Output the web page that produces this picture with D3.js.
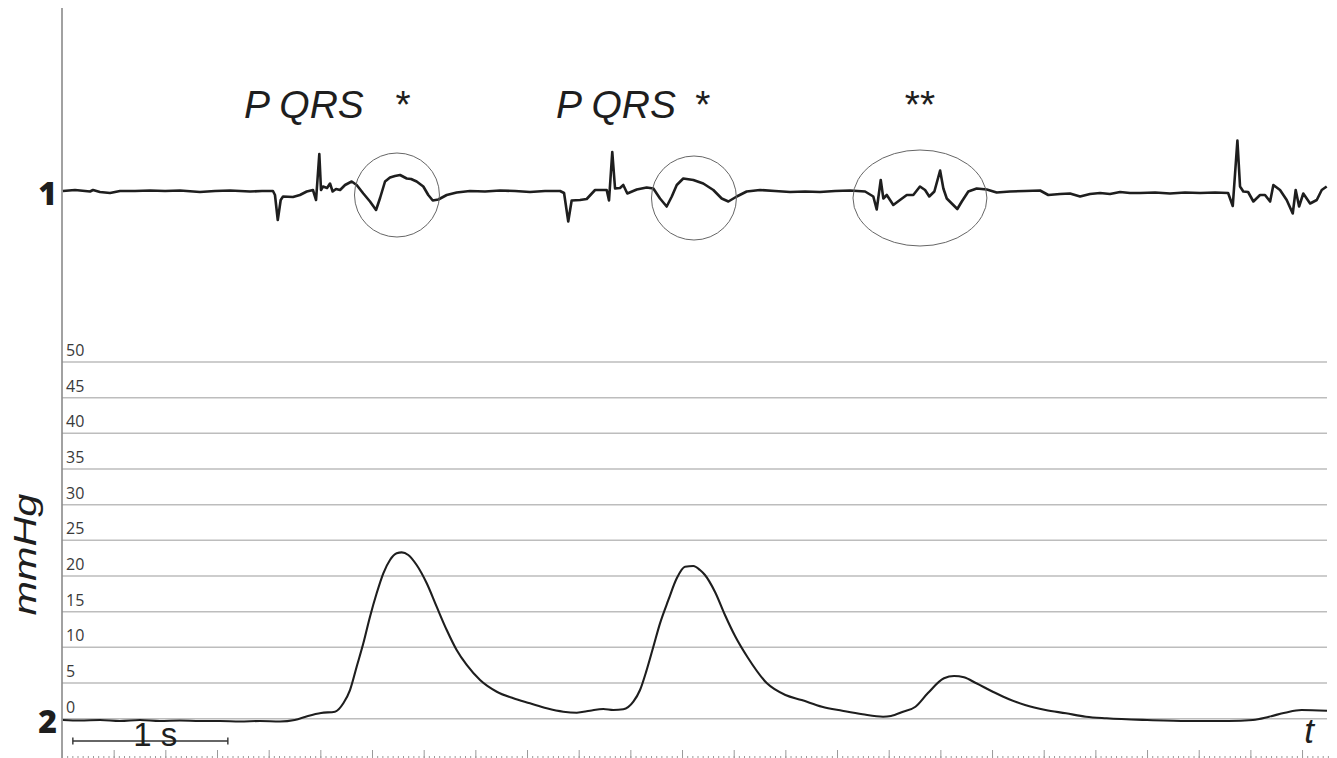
<!DOCTYPE html>
<html>
<head>
<meta charset="utf-8">
<script src="https://cdnjs.cloudflare.com/ajax/libs/d3/7.8.5/d3.min.js"></script>
<style>
  body { margin: 0; background: #fff; }
  .grid line { stroke: #bdbdbd; stroke-width: 1.5px; }
  .tick-label { font-family: "Open Sans", sans-serif; font-size: 16px; fill: #3a3a3a; }
  .trace { fill: none; stroke: #1e1e1e; stroke-linejoin: round; }
  .note { font-family: "Liberation Sans", Arial, sans-serif; fill: #1e1e1e; }
  .ruler path { display: none; }
  .ruler line { stroke: #9a9a9a; }
</style>
</head>
<body>
<div id="chart"></div>
<script>
//////////////////////////////////////////////
// Data //////////////////////////////////////
//////////////////////////////////////////////
// ECG (trace 1): [time s, amplitude mV]
var ecgPoints = [
  [0.006,0],[0.084,0.02],[0.181,-0.01],[0.2,0.02],[0.245,-0.02],[0.31,-0.04],[0.374,0],[0.471,0],
  [0.568,0.01],[0.665,0],[0.761,0.01],[0.89,-0.02],[0.987,0],[1.084,0.01],[1.213,-0.01],[1.29,0],[1.361,0],
  // beat 1
  [1.374,-0.08],[1.392,-0.58],[1.411,-0.18],[1.426,-0.11],[1.49,-0.12],[1.535,-0.08],[1.579,-0.01],[1.619,0.02],
  [1.639,-0.18],[1.66,0.74],[1.671,0.02],[1.684,0.09],[1.71,0.06],[1.729,0.15],[1.746,-0.01],[1.768,0.04],
  [1.794,0.02],[1.826,0.12],[1.869,0.19],[1.901,0.12],[1.944,-0.05],[1.987,-0.21],[2.026,-0.38],[2.052,-0.14],
  [2.084,0.19],[2.116,0.27],[2.148,0.30],[2.181,0.32],[2.224,0.25],[2.252,0.24],[2.288,0.19],[2.331,0.09],
  [2.363,-0.08],[2.392,-0.19],[2.428,-0.17],[2.482,-0.08],[2.546,-0.03],[2.632,0],[2.729,-0.01],[2.826,0.01],
  [2.923,0],[3.019,-0.02],[3.116,0],[3.213,0],
  // beat 2
  [3.239,-0.04],[3.266,-0.61],[3.288,-0.19],[3.342,-0.18],[3.385,-0.16],[3.439,0.02],[3.514,0.02],[3.529,-0.19],
  [3.55,0.78],[3.568,0.05],[3.6,0.06],[3.621,0.12],[3.647,-0.05],[3.708,0.03],[3.772,0.07],[3.815,0.05],
  [3.858,-0.15],[3.901,-0.31],[3.934,-0.11],[3.966,0.12],[4.008,0.25],[4.073,0.22],[4.137,0.15],[4.202,0.02],
  [4.256,-0.15],[4.299,-0.21],[4.353,-0.11],[4.417,-0.01],[4.503,0.02],[4.6,0],[4.697,-0.02],[4.794,-0.01],
  [4.89,-0.02],[4.987,0],[5.084,0.01],[5.181,-0.01],
  // irregular complex (**)
  [5.234,-0.11],[5.256,-0.37],[5.282,0.22],[5.299,-0.15],[5.321,-0.08],[5.342,-0.18],[5.363,-0.28],[5.406,-0.18],
  [5.45,-0.08],[5.492,-0.08],[5.535,0.09],[5.568,0.02],[5.595,-0.11],[5.628,-0.01],[5.665,0.41],[5.686,0.05],
  [5.708,-0.15],[5.75,-0.28],[5.776,-0.36],[5.805,-0.21],[5.847,-0.01],[5.901,0.05],[5.966,0.03],[6.03,-0.03],
  [6.116,-0.01],[6.213,0],[6.31,0.01],[6.363,-0.08],[6.439,-0.06],[6.503,-0.05],[6.568,-0.11],[6.632,-0.06],
  [6.697,-0.04],[6.761,-0.06],[6.826,-0.02],[6.89,-0.04],[6.955,-0.04],[7.052,-0.03],[7.148,-0.05],[7.245,-0.03],
  [7.342,-0.04],[7.439,-0.03],[7.523,-0.04],
  // last beat
  [7.553,-0.30],[7.583,1.01],[7.6,0.09],[7.621,-0.01],[7.652,-0.02],[7.686,-0.21],[7.729,-0.08],[7.761,-0.08],
  [7.794,-0.21],[7.815,0.12],[7.858,0.02],[7.901,-0.18],[7.94,-0.45],[7.959,0.02],[7.981,-0.31],[8.008,-0.05],
  [8.052,-0.25],[8.095,-0.18],[8.127,0.02],[8.159,0.09]
];

// pressure (trace 2): [time s, mmHg]
var pressurePoints = [
  [0.006,-0.18],[0.116,-0.25],[0.245,-0.18],[0.374,-0.32],[0.503,-0.18],[0.632,-0.32],[0.761,-0.25],[0.89,-0.32],
  [1.019,-0.32],[1.148,-0.39],[1.277,-0.32],[1.406,-0.39],[1.501,-0.18],[1.587,0.38],[1.671,0.8],[1.761,0.98],
  [1.816,2.2],[1.858,4.02],[1.901,7.29],[1.944,10.57],[1.987,14.3],[2.03,17.58],[2.073,20.38],[2.116,22.25],
  [2.159,23.18],[2.192,23.32],[2.234,22.95],[2.288,21.54],[2.353,18.98],[2.417,15.7],[2.482,12.43],[2.546,9.63],
  [2.611,7.53],[2.697,5.42],[2.805,3.78],[2.912,2.86],[3.019,2.16],[3.127,1.46],[3.234,0.98],[3.321,0.84],
  [3.406,1.12],[3.492,1.36],[3.557,1.22],[3.621,1.32],[3.686,2.38],[3.729,4.02],[3.772,6.83],[3.815,10.09],
  [3.858,13.37],[3.912,16.64],[3.966,19.68],[4.019,21.31],[4.073,21.4],[4.116,20.84],[4.148,20.14],[4.213,17.76],
  [4.277,14.54],[4.342,11.59],[4.426,8.51],[4.548,4.96],[4.667,3.32],[4.772,2.62],[4.903,1.68],[5.034,1.12],
  [5.165,0.62],[5.297,0.28],[5.348,0.38],[5.426,0.98],[5.506,1.68],[5.585,3.56],[5.69,5.66],[5.755,5.99],
  [5.819,5.8],[5.899,4.96],[6.005,3.78],[6.11,2.72],[6.213,1.92],[6.345,1.22],[6.477,0.76],[6.606,0.28],
  [6.739,0.06],[7.0,-0.18],[7.263,-0.32],[7.526,-0.32],[7.683,-0.18],[7.787,0.28],[7.89,0.84],[7.997,1.22],
  [8.161,1.12]
];

var pressureTicks = [0, 5, 10, 15, 20, 25, 30, 35, 40, 45, 50];

// annotations above the ECG: [text, time s, anchor]
var ecgNotes = [
  ["P QRS", 1.174, "start"], ["*", 2.2, "middle"],
  ["P QRS", 3.187, "start"], ["*", 4.135, "middle"],
  ["**", 5.535, "middle"]
];
// marked regions: [centre time s, centre mV, half width s, half height mV]
var ecgMarks = [
  [2.161, -0.08, 0.274, 0.84],
  [4.077, -0.14, 0.274, 0.84],
  [5.535, -0.14, 0.432, 0.96]
];
var scaleBar = [0.07, 1.07]; // 1 s

//////////////////////////////////////////////
// Chart Config /////////////////////////////
//////////////////////////////////////////////
var W = 1337, H = 758;
var left = 62, right = 1327;

var x = d3.scaleLinear().domain([0, 8.161]).range([left, right]);
var yEcg = d3.scaleLinear().domain([-1, 1]).range([241, 141]);
var yP = d3.scaleLinear().domain([0, 50]).range([718.7, 362]);

var svg = d3.select("#chart").append("svg")
  .attr("width", W)
  .attr("height", H);

// horizontal pressure grid
var grid = svg.append("g").attr("class", "grid");
grid.selectAll("line").data(pressureTicks).enter().append("line")
  .attr("x1", left).attr("x2", right)
  .attr("y1", function(d) { return yP(d); })
  .attr("y2", function(d) { return yP(d); });

svg.append("g").selectAll("text").data(pressureTicks).enter().append("text")
  .attr("class", "tick-label")
  .attr("x", left + 4)
  .attr("y", function(d) { return yP(d) - 6; })
  .text(function(d) { return d; });

// vertical axis line
svg.append("line")
  .attr("x1", left).attr("x2", left)
  .attr("y1", 8).attr("y2", H)
  .style("stroke", "#8a8a8a").style("stroke-width", "1.6px");

// time ruler at the bottom (major every 1/3 s, minor every 1/30 s)
var minorAxis = d3.axisBottom(x).tickValues(d3.range(0, 8.2, 1 / 30)).tickSize(2).tickFormat("");
var majorAxis = d3.axisBottom(x).tickValues(d3.range(0, 8.2, 1 / 3)).tickSize(8).tickFormat("");
svg.append("g").attr("class", "ruler").attr("transform", "translate(0,756)").call(minorAxis)
  .selectAll("line").style("stroke-width", "1px");
svg.append("g").attr("class", "ruler").attr("transform", "translate(0,750)").call(majorAxis)
  .selectAll("line").style("stroke-width", "1px");

//////////////////////////////////////////////
// Traces ////////////////////////////////////
//////////////////////////////////////////////
var ecgLine = d3.line()
  .x(function(d) { return x(d[0]); })
  .y(function(d) { return yEcg(d[1]); });

var pLine = d3.line()
  .curve(d3.curveMonotoneX)
  .x(function(d) { return x(d[0]); })
  .y(function(d) { return yP(d[1]); });

svg.append("path").datum(ecgPoints)
  .attr("class", "trace")
  .style("stroke-width", "2.6px")
  .attr("d", ecgLine);

svg.append("path").datum(pressurePoints)
  .attr("class", "trace")
  .style("stroke-width", "2.1px")
  .attr("d", pLine);

// circled regions
svg.append("g").selectAll("ellipse").data(ecgMarks).enter().append("ellipse")
  .attr("cx", function(d) { return x(d[0]); })
  .attr("cy", function(d) { return yEcg(d[1]); })
  .attr("rx", function(d) { return x(d[2]) - x(0); })
  .attr("ry", function(d) { return yEcg(0) - yEcg(d[3]); })
  .style("fill", "none").style("stroke", "#666").style("stroke-width", "1px");

//////////////////////////////////////////////
// Labels ////////////////////////////////////
//////////////////////////////////////////////
svg.append("g").selectAll("text").data(ecgNotes).enter().append("text")
  .attr("class", "note")
  .attr("x", function(d) { return x(d[1]); })
  .attr("y", 118)
  .attr("text-anchor", function(d) { return d[2]; })
  .style("font-size", "39px")
  .style("font-style", function(d) { return d[0].indexOf("*") < 0 ? "italic" : "normal"; })
  .text(function(d) { return d[0]; });

// trace numbers
svg.append("text").attr("x", 57).attr("y", 205).attr("text-anchor", "end")
  .style("font-family", "'Open Sans', sans-serif").style("font-weight", 800).style("font-size", "32px")
  .style("fill", "#1e1e1e").text("1");
svg.append("text").attr("x", 57).attr("y", 733).attr("text-anchor", "end")
  .style("font-family", "'Open Sans', sans-serif").style("font-weight", 800).style("font-size", "32px")
  .style("fill", "#1e1e1e").text("2");

// unit
svg.append("text").attr("class", "note")
  .attr("transform", "translate(36," + yP(23) + ") rotate(-90)")
  .attr("text-anchor", "middle")
  .attr("textLength", 122).attr("lengthAdjust", "spacingAndGlyphs")
  .style("font-size", "32px").style("font-style", "italic")
  .text("mmHg");

// 1 s scale bar
var bar = svg.append("g").style("stroke", "#333").style("stroke-width", "1.4px");
bar.append("line").attr("x1", x(scaleBar[0])).attr("x2", x(scaleBar[1])).attr("y1", 741).attr("y2", 741);
bar.selectAll(".cap").data(scaleBar).enter().append("line")
  .attr("x1", function(d) { return x(d); }).attr("x2", function(d) { return x(d); })
  .attr("y1", 737.5).attr("y2", 744.5);
svg.append("text").attr("class", "note")
  .attr("x", (x(scaleBar[0]) + x(scaleBar[1])) / 2 + 5).attr("y", 746)
  .attr("text-anchor", "middle").style("font-size", "33px")
  .text("1 s");

// time label
svg.append("text").attr("class", "note")
  .attr("x", 1309).attr("y", 743).attr("text-anchor", "middle")
  .style("font-size", "35px").style("font-style", "italic")
  .text("t");
</script>
</body>
</html>
